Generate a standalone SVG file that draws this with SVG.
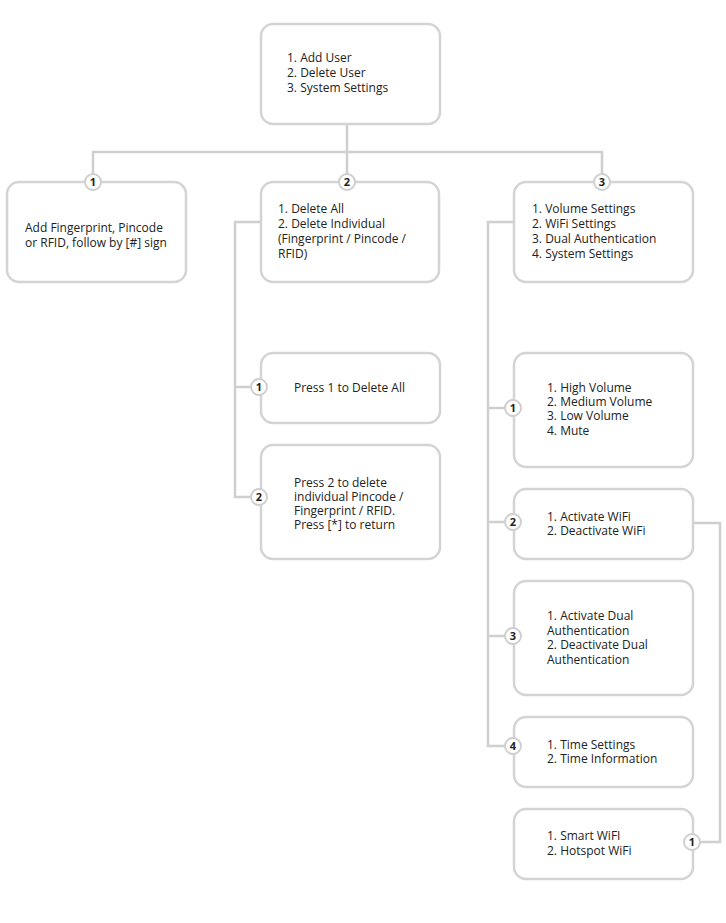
<svg xmlns="http://www.w3.org/2000/svg" width="726" height="923" viewBox="0 0 726 923">
<style>
.box{fill:#fff;stroke:#d4d4d4;stroke-width:2.5}
.ln{fill:none;stroke:#cfcfcf;stroke-width:2.5}
.bd{fill:#fff;stroke:#cfcfcf;stroke-width:2}
.t{font-family:"Open Sans","Noto Sans",sans-serif;font-size:12px;fill:#222}
.n{font-family:"Open Sans","Noto Sans",sans-serif;font-size:11px;font-weight:bold;fill:#222;text-anchor:middle}
</style>
<rect width="726" height="923" fill="#fff"/>
<g id="connectors">
<path class="ln" d="M347 124V152M93 182V152H602V182M347 152V182"/>
<path class="ln" d="M261 222H235V497H259M235 387H259"/>
<path class="ln" d="M514 222H488V746H513M488 408H513M488 522H513M488 636H513"/>
<path class="ln" d="M693 523H720V842H700"/>
</g>
<g id="root">
<rect class="box" x="261" y="24" width="179" height="100" rx="12"/>
<text class="t" x="287" y="62">1. Add User</text>
<text class="t" x="287" y="77">2. Delete User</text>
<text class="t" x="287" y="92">3. System Settings</text>
</g>
<g id="add">
<rect class="box" x="7" y="182" width="179" height="100" rx="12"/>
<text class="t" x="25" y="232">Add Fingerprint, Pincode</text>
<text class="t" x="25" y="247">or RFID, follow by [#] sign</text>
<circle class="bd" cx="93" cy="182" r="8"/><text class="n" x="93" y="186">1</text>
</g>
<g id="delete">
<rect class="box" x="261" y="182" width="178" height="100" rx="12"/>
<text class="t" x="278" y="213">1. Delete All</text>
<text class="t" x="278" y="228">2. Delete Individual</text>
<text class="t" x="278" y="243">(Fingerprint / Pincode /</text>
<text class="t" x="278" y="258">RFID)</text>
<circle class="bd" cx="347" cy="182" r="8"/><text class="n" x="347" y="186">2</text>
</g>
<g id="system">
<rect class="box" x="514" y="182" width="179" height="100" rx="12"/>
<text class="t" x="532" y="213">1. Volume Settings</text>
<text class="t" x="532" y="228">2. WiFi Settings</text>
<text class="t" x="532" y="243">3. Dual Authentication</text>
<text class="t" x="532" y="258">4. System Settings</text>
<circle class="bd" cx="602" cy="182" r="8"/><text class="n" x="602" y="186">3</text>
</g>
<g id="press1">
<rect class="box" x="261" y="353" width="179" height="70" rx="12"/>
<text class="t" x="294" y="392">Press 1 to Delete All</text>
<circle class="bd" cx="259" cy="387" r="8"/><text class="n" x="259" y="391">1</text>
</g>
<g id="press2">
<rect class="box" x="261" y="445" width="179" height="114" rx="12"/>
<text class="t" x="294" y="487">Press 2 to delete</text>
<text class="t" x="294" y="501">individual Pincode /</text>
<text class="t" x="294" y="515">Fingerprint / RFID.</text>
<text class="t" x="294" y="529">Press [*] to return</text>
<circle class="bd" cx="259" cy="497" r="8"/><text class="n" x="259" y="501">2</text>
</g>
<g id="volume">
<rect class="box" x="514" y="353" width="179" height="114" rx="12"/>
<text class="t" x="547" y="392">1. High Volume</text>
<text class="t" x="547" y="406">2. Medium Volume</text>
<text class="t" x="547" y="420">3. Low Volume</text>
<text class="t" x="547" y="435">4. Mute</text>
<circle class="bd" cx="513" cy="408" r="8"/><text class="n" x="513" y="412">1</text>
</g>
<g id="wifi">
<rect class="box" x="514" y="489" width="179" height="70" rx="12"/>
<text class="t" x="547" y="521">1. Activate WiFi</text>
<text class="t" x="547" y="535">2. Deactivate WiFi</text>
<circle class="bd" cx="513" cy="522" r="8"/><text class="n" x="513" y="526">2</text>
</g>
<g id="dual">
<rect class="box" x="514" y="581" width="179" height="114" rx="12"/>
<text class="t" x="547" y="620">1. Activate Dual</text>
<text class="t" x="547" y="635">Authentication</text>
<text class="t" x="547" y="649">2. Deactivate Dual</text>
<text class="t" x="547" y="664">Authentication</text>
<circle class="bd" cx="513" cy="636" r="8"/><text class="n" x="513" y="640">3</text>
</g>
<g id="time">
<rect class="box" x="514" y="717" width="179" height="70" rx="12"/>
<text class="t" x="547" y="749">1. Time Settings</text>
<text class="t" x="547" y="763">2. Time Information</text>
<circle class="bd" cx="513" cy="746" r="8"/><text class="n" x="513" y="750">4</text>
</g>
<g id="wifimode">
<rect class="box" x="514" y="809" width="179" height="70" rx="12"/>
<text class="t" x="547" y="840">1. Smart WiFI</text>
<text class="t" x="547" y="855">2. Hotspot WiFi</text>
<circle class="bd" cx="692" cy="842" r="8"/><text class="n" x="692" y="846">1</text>
</g>
</svg>
